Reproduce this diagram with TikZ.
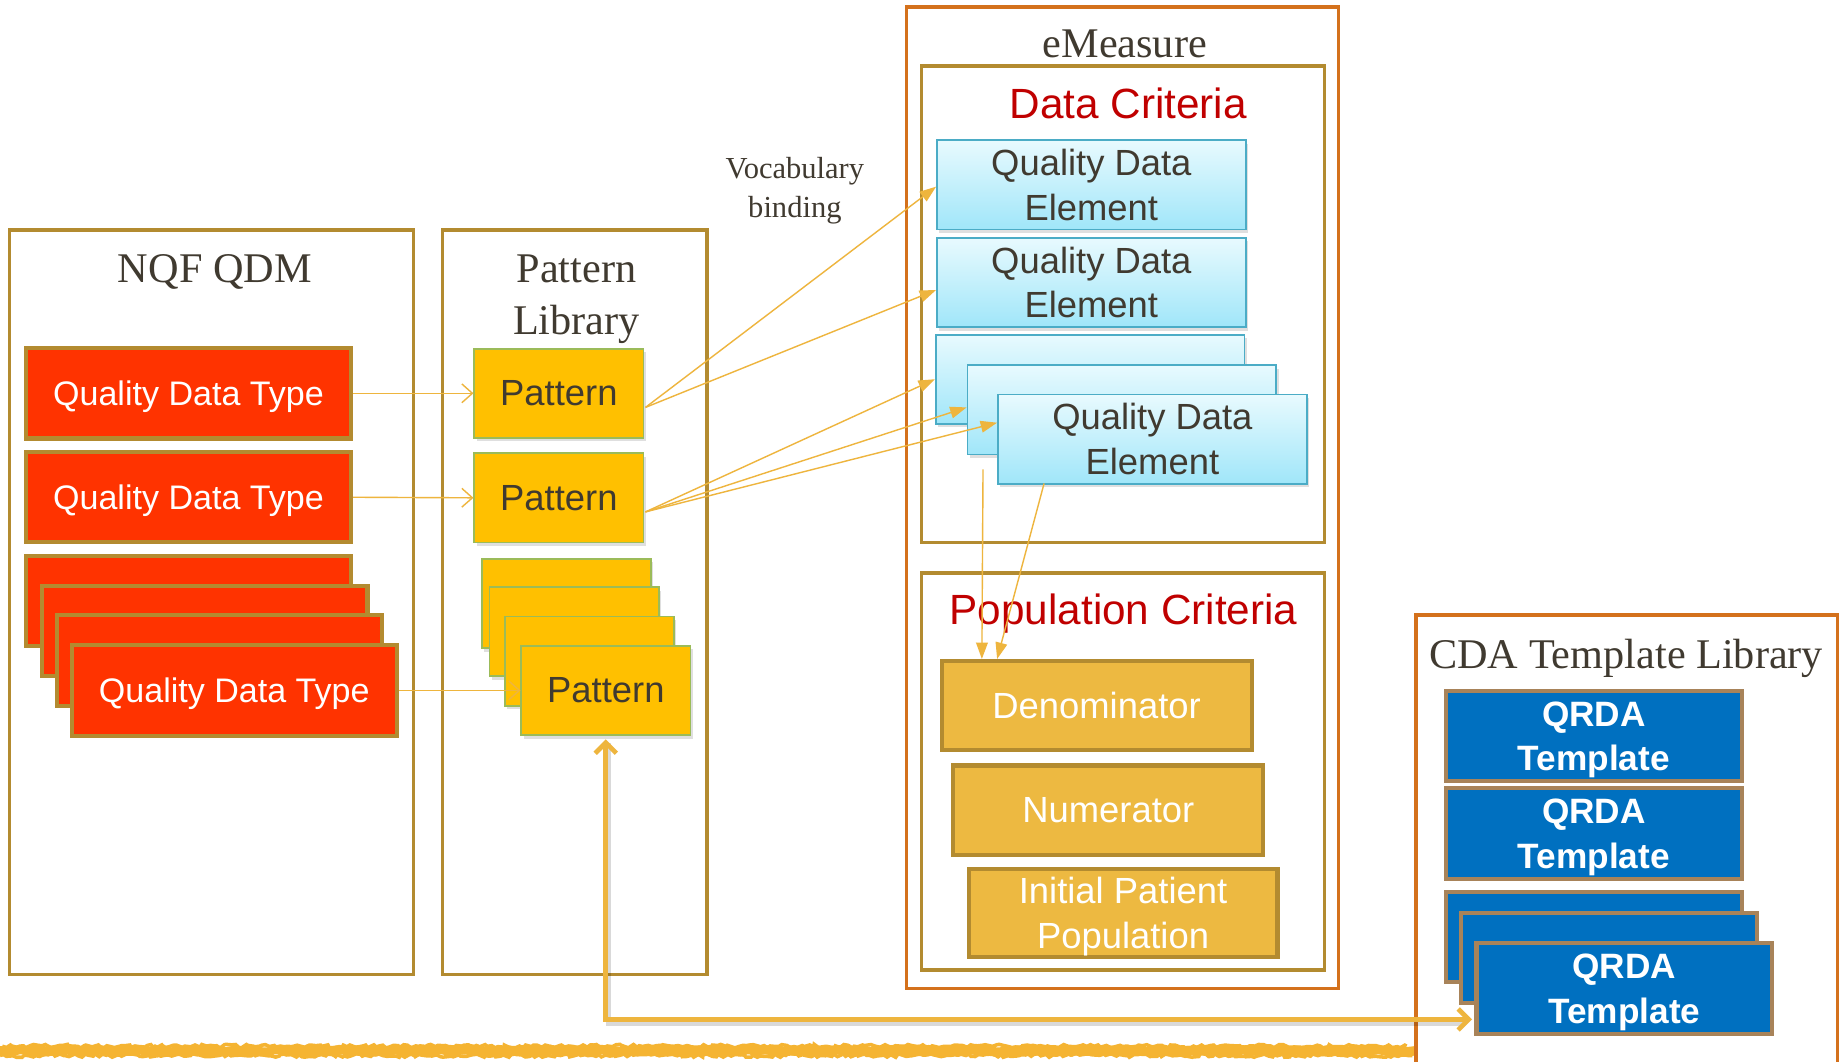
\documentclass[tikz,border=0pt]{standalone}
\usepackage{fontspec}
\setmainfont{Liberation Serif}
\setsansfont{Liberation Sans}
\usetikzlibrary{arrows.meta,calc,shadows,decorations.pathmorphing}
\definecolor{goldline}{HTML}{B38B30}
\definecolor{orangeline}{HTML}{D4711C}
\definecolor{qdtfill}{HTML}{FF3300}
\definecolor{patfill}{HTML}{FFC000}
\definecolor{patline}{HTML}{9BBB59}
\definecolor{qdetop}{HTML}{E8FAFE}
\definecolor{qdebot}{HTML}{A0E6F9}
\definecolor{qdeline}{HTML}{4BACC6}
\definecolor{popfill}{HTML}{EDB941}
\definecolor{qrdafill}{HTML}{0070C0}
\definecolor{qrdaline}{HTML}{A88359}
\definecolor{darktext}{HTML}{403A30}
\definecolor{redtitle}{HTML}{C00000}
\definecolor{arrowc}{HTML}{EEB53E}
\definecolor{brushc}{HTML}{F5B432}
\tikzset{
  container/.style={draw=goldline, line width=3pt, inner sep=0pt},
  outerbox/.style={draw=orangeline, line width=3pt, inner sep=0pt},
  titletxt/.style={text=darktext, font=\rmfamily\fontsize{36}{44}\selectfont, align=center, inner sep=0pt},
  redtxt/.style={text=redtitle, font=\sffamily\fontsize{36}{42}\selectfont, inner sep=0pt},
  softshadow/.style={drop shadow={shadow xshift=2pt, shadow yshift=-3pt, opacity=0.25}},
  qdt/.style={draw=goldline, line width=3.5pt, fill=qdtfill, text=white, minimum width=277pt, minimum height=77pt, inner sep=0pt, text depth=0pt, font=\sffamily\fontsize{29}{34}\selectfont},
  pat/.style={draw=patline, line width=1.5pt, fill=patfill, text=darktext, minimum width=144pt, minimum height=76pt, inner sep=0pt, font=\sffamily\fontsize{31}{36}\selectfont, softshadow},
  qde/.style={draw=qdeline, line width=1.5pt, top color=qdetop, bottom color=qdebot, text=darktext, minimum width=263pt, minimum height=76pt, inner sep=0pt, align=center, font=\sffamily\fontsize{31}{38}\selectfont, softshadow},
  pop/.style={draw=goldline, line width=3.5pt, fill=popfill, text=white, minimum width=264pt, minimum height=76pt, inner sep=0pt, text depth=0pt, align=center, font=\sffamily\fontsize{31}{38}\selectfont},
  qrda/.style={draw=qrdaline, line width=3.5pt, fill=qrdafill, text=white, minimum width=252pt, minimum height=77pt, inner sep=0pt, text depth=0pt, align=center, font=\sffamily\bfseries\fontsize{30}{38}\selectfont},
  thinarr/.style={draw=arrowc, line width=1.2pt, -{Straight Barb[length=9pt,width=16pt]}},
  bindarr/.style={draw=arrowc, line width=1.2pt, -{Triangle[length=14pt,width=10pt]}},
  bigarr/.style={draw=arrowc, line width=4pt, {Straight Barb[length=9pt,width=18pt]}-{Straight Barb[length=9pt,width=18pt]}},
  brush/.style={draw=brushc, line width=8pt, decorate, decoration={random steps, segment length=4pt, amplitude=1.2pt}}
}
\begin{document}
\begin{tikzpicture}[x=1pt,y=-1pt]
\pgfmathsetseed{7}
\fill[white] (0,0) rectangle (1568,904);
\useasboundingbox (0,0) rectangle (1568,904);

% bottom brush stroke
\draw[brush] (0,895) -- (1205,895);
\draw[brush, line width=3pt, decoration={random steps, segment length=3pt, amplitude=1.5pt}] (2,891) -- (1198,891);
\draw[brush, line width=3pt, decoration={random steps, segment length=3pt, amplitude=1.5pt}] (0,899) -- (1203,899);

% containers
\node[container, minimum width=344pt, minimum height=634pt] (nqf) at (180,513) {};
\node[titletxt, anchor=base] (nqft) at (183,241) {NQF QDM};
\node[container, minimum width=225pt, minimum height=634pt] (plib) at (489.5,513) {};
\node[titletxt, anchor=base] (plibt) at (491,285) {Pattern\\Library};
\node[outerbox, minimum width=368pt, minimum height=836pt] (emeas) at (956,424) {};
\node[titletxt, anchor=base] (emeast) at (958,49) {eMeasure};
\node[container, minimum width=343pt, minimum height=406pt] (dc) at (956.5,259) {};
\node[redtxt, anchor=base] (dct) at (961,101) {Data Criteria};
\node[container, minimum width=343pt, minimum height=338pt] (pc) at (956.5,657) {};
\node[redtxt, anchor=base] (pct) at (957,532) {Population Criteria};
\draw[outerbox] (1206,910) -- (1206,524) -- (1565,524) -- (1565,910);
\node[titletxt, anchor=base] (cdat) at (1385,569) {CDA Template Library};

% vocabulary label
\node[text=darktext, font=\rmfamily\fontsize{26}{33}\selectfont, align=center, anchor=base, inner sep=0pt] (vocab) at (677,185) {Vocabulary\\binding};

% quality data types
\node[qdt] (q1) at (160.5,335) {Quality Data Type};
\node[qdt] (q2) at (160.5,423.5) {Quality Data Type};
\node[qdt] (q3) at (160.5,512) {};
\node[qdt] (q4) at (174.5,537.5) {};
\node[qdt] (q5) at (187,562.5) {};
\node[qdt] (q6) at (199.5,588) {Quality Data Type};

% patterns
\node[pat] (p1) at (476,335) {Pattern};
\node[pat] (p2) at (476,424) {Pattern};
\node[pat] (p3) at (482.5,514) {};
\node[pat] (p4) at (489,538) {};
\node[pat] (p5) at (502,563) {};
\node[pat] (p6) at (516,588) {Pattern};

% quality data elements
\node[qde] (e1) at (929.5,157.5) {Quality Data\\Element};
\node[qde] (e2) at (929.5,240.5) {Quality Data\\Element};
\node[qde] (e3) at (928.5,323) {};
\node[qde] (e4) at (955.5,349) {};
\node[qde] (e5) at (981.5,374) {Quality Data\\Element};

% population criteria
\node[pop] (den) at (934,601) {Denominator};
\node[pop] (num) at (944,690) {Numerator};
\node[pop, minimum width=263pt, minimum height=75pt] (ipp) at (956.5,777.5) {Initial Patient\\Population};

% QRDA templates
\node[qrda] (t1) at (1357.5,627) {QRDA\\Template};
\node[qrda] (t2) at (1357.5,710) {QRDA\\Template};
\node[qrda] (t3) at (1357.5,798) {};
\node[qrda] (t4) at (1370.5,816) {};
\node[qrda] (t5) at (1383.5,842) {QRDA\\Template};

% QDT -> Pattern
\draw[thinarr] (q1.east) -- (p1.west);
\draw[thinarr] (q2.east) -- (p2.west);
\draw[thinarr] (q6.east) -- (p6.west);

% vocabulary binding
\coordinate (b1) at ($(p1.east)+(1,12)$);
\coordinate (b2) at ($(p2.east)+(1,12)$);
\draw[bindarr] (b1) -- ($(e1.west)+(0,1.5)$);
\draw[bindarr] (b1) -- ($(e2.west)+(0,6.5)$);
\draw[bindarr] (b2) -- (e3.west);
\draw[bindarr] (b2) -- ($(e4.west)+(0,-2)$);
\draw[bindarr] (b2) -- ($(e5.west)+(0,-14)$);

% data criteria -> denominator
\draw[bindarr] ($(e4.south west)+(14,12)$) -- ($(den.north west)+(36,0)$);
\draw[bindarr] ($(e5.south west)+(40,-1)$) -- ($(den.north west)+(49,0)$);

% pattern <-> QRDA template
\coordinate (tend) at ($(t5.south west)+(-2,-14)$);
\draw[line width=4pt, black, opacity=0.15] ($(p6.south)+(2,6)$) |- ($(tend)+(-8,4)$);
\draw[bigarr] ($(p6.south)+(0,3)$) |- (tend);
\end{tikzpicture}
\end{document}
